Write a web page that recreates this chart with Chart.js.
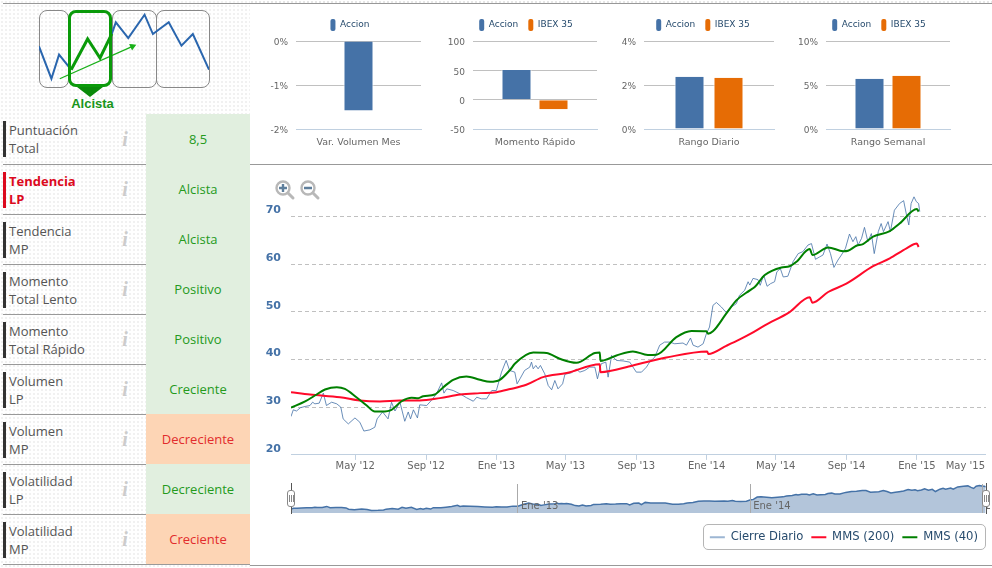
<!DOCTYPE html>
<html>
<head>
<meta charset="utf-8">
<title>Alcista</title>
<script src="https://cdn.jsdelivr.net/npm/chart.js@4/dist/chart.umd.js"></script>
<style>
html, body { margin: 0; padding: 0; background: #fff; }
body { position: relative; width: 992px; height: 568px; overflow: hidden; font-family: "Open Sans", sans-serif; }
.abs { position: absolute; }
.dots { left: 0; top: 0; width: 250px; height: 568px;
	background-image: radial-gradient(#f1f1f1 0.8px, transparent 1px); background-size: 4px 4px; }
.dots-top { left: 250px; top: 0; width: 742px; height: 3px;
	background-image: radial-gradient(#e6e6e6 0.8px, transparent 1px); background-size: 4px 4px; }
.hline { height: 1px; background: #999; }
.bar-mark { left: 3px; width: 3px; height: 36px; background: #333; }
.row-label { left: 9px; width: 100px; font-size: 13px; line-height: 18px; color: #555; }
.row-label.hot { color: #dc0a1e; font-weight: bold; }
.row-info { left: 118px; width: 14px; text-align: center; font: italic bold 20px "Liberation Serif", serif; color: #cccccc; }
.cell { left: 146px; width: 104px; height: 50px; line-height: 50px; text-align: center; font-size: 13px; }
.cell.up { background: #e1efdf; color: #259a1c; }
.cell.down { background: #fdd5b5; color: #e22c2c; }
.frame { top: 10px; height: 76px; border: 1px solid #888; border-radius: 8px; box-sizing: content-box; }
.frame.on { border: 3px solid #0a9a0a; top: 10px; height: 71px; }
.trend-label { left: 40px; width: 105px; top: 96px; text-align: center; font: bold 13px "Liberation Sans", sans-serif; color: #19961a; }
canvas { display: block; }
.legend-box { left: 703px; top: 524px; width: 281px; height: 24px; border: 1px solid #b5b5b5; border-radius: 5px; }
.nav-line { top: 483px; width: 1px; height: 31px; background: #555; }
.nav-handle { top: 490px; width: 6px; height: 15px; background: #fff; border: 1px solid #888; border-radius: 3px; }
.nav-handle i { position: absolute; top: 4px; width: 1px; height: 7px; background: #888; }
</style>
</head>
<body>
<script>
// rows of the left table
var rowTop = [114, 164, 214, 264, 314, 364, 414, 464, 514];
var rowNames = [["Puntuación", "Total"], ["Tendencia", "LP"], ["Tendencia", "MP"], ["Momento", "Total Lento"], ["Momento", "Total Rápido"], ["Volumen", "LP"], ["Volumen", "MP"], ["Volatilidad", "LP"], ["Volatilidad", "MP"]];
var rowValues = ["8,5", "Alcista", "Alcista", "Positivo", "Positivo", "Creciente", "Decreciente", "Decreciente", "Creciente"];
var rowGood = [true, true, true, true, true, true, false, true, false];

// little trend picture
var miniX = [0, 7.3, 11.8, 18.9, 28.6, 35.9, 42.8, 45.2, 52.5, 62.1, 67, 76.3, 83.8, 90.5, 100];
var miniY = [52.8, 10.8, 42, 22.5, 62.3, 37.7, 69, 84, 63.6, 93.9, 68.8, 84, 53.7, 68.8, 22.5];
var arrowX = [12.2, 55];
var arrowY = [10.8, 52.8];

// small bar charts
var seriesAccion = "Accion";
var seriesIbex = "IBEX 35";
var volumenCats = ["Var. Volumen Mes"];
var volumenAccion = [-1.58];
var volumenTicks = [-2, -1, 0];
var momentoCats = ["Momento Rápido"];
var momentoAccion = [50.5];
var momentoIbex = [-16.5];
var momentoTicks = [-50, 0, 50, 100];
var diarioCats = ["Rango Diario"];
var diarioAccion = [2.38];
var diarioIbex = [2.33];
var diarioTicks = [0, 2, 4];
var semanalCats = ["Rango Semanal"];
var semanalAccion = [5.72];
var semanalIbex = [6.06];
var semanalTicks = [0, 5, 10];

// main chart, x is days since 1 Jan 2012
var dailyDays = [9.5, 13.5, 19, 26, 34, 42.5, 47, 51, 58.5, 65.6, 71, 80, 89, 96, 100, 109, 120.5, 129, 136, 146.5, 155, 159, 168.5, 178, 184, 190, 198.6, 207, 213, 217, 222, 229, 233, 245, 253, 262, 271, 275, 280, 291, 303, 314, 326, 332, 340, 349, 358, 366, 375, 383, 389, 398, 402, 407, 415, 424, 427, 430, 434.5, 438.5, 442.5, 450, 456, 462, 467.5, 473, 481, 485, 496, 505, 511, 519.5, 528, 537, 541.5, 548, 556, 560, 566, 574.5, 586, 597.5, 609, 618, 626.5, 632, 641, 649.6, 658, 667, 675.6, 690, 696, 703, 707.5, 716, 725, 730.6, 736, 742, 748, 756.6, 765, 774, 782.6, 788, 797, 803, 806, 811.6, 820, 824, 830, 836, 842, 849, 853, 859, 864, 872, 881, 890, 898, 907, 913, 920, 927, 933, 940, 946, 952, 959, 965, 972, 979, 985, 990, 994, 1000, 1005, 1011, 1017, 1022, 1029, 1034, 1038, 1046, 1050, 1057, 1066, 1073, 1078, 1082, 1086, 1091, 1095, 1099, 1101];
var dailyClose = [28.05, 29.45, 29.2, 29.9, 30.15, 30.35, 31.05, 30.7, 30.85, 32.95, 30.35, 31.05, 30.7, 30, 27.55, 26.5, 27.75, 26.85, 25, 25.25, 25.8, 27.55, 29, 27.55, 31.05, 29.2, 31.05, 27.05, 29, 27.55, 29.45, 27.75, 30.5, 30.35, 31.4, 32.8, 35.1, 32.95, 33.85, 33.5, 32.8, 32, 31.25, 32.1, 31.75, 31.75, 33.5, 33.5, 37.35, 39.8, 37.7, 37.35, 34.9, 35.95, 37.7, 38.4, 39.45, 38.05, 38.75, 38.05, 38.75, 37, 34.55, 33.65, 35.6, 33.85, 34.9, 36.9, 37.2, 37.95, 37.35, 37.7, 38.4, 38.4, 35.95, 39.1, 39.45, 36.3, 40.85, 39.8, 39.7, 39.45, 37.35, 37.35, 38.4, 39.45, 40.5, 43, 43.65, 43.65, 43.3, 43.45, 43, 44.5, 43, 42.6, 43.3, 45.4, 46.8, 51.35, 51.95, 51, 49.85, 51, 51.7, 53.45, 54.5, 56.3, 55.6, 57, 56.75, 55.55, 57.7, 55.35, 55.9, 56.3, 58.4, 59.05, 57.3, 57.45, 60.5, 62.2, 62.6, 64, 64.3, 61, 61.5, 61.9, 64.2, 62.2, 59.3, 60.85, 61.9, 63.3, 66.3, 64.7, 65.75, 64, 65.4, 67.7, 64.7, 66.4, 62.2, 66.8, 68.5, 66.8, 68.9, 66.8, 71.3, 72.7, 73.3, 70.3, 68.2, 72.7, 74.1, 73.1, 72.7, 71];
var mms200Days = [9.5, 42.5, 94.5, 129, 164, 198.6, 233, 268, 303, 337.4, 366, 390, 418, 447, 488, 545.5, 546.7, 603, 661, 732, 734, 765, 788.5, 806, 832, 875, 910, 914.6, 942, 973.6, 1020, 1049, 1078, 1096, 1099];
var mms200 = [33.15, 32.65, 32.1, 31.4, 31.2, 31.4, 31.4, 31.9, 32.65, 32.95, 33.15, 33.8, 34.7, 36.3, 37.15, 39, 37.35, 38.75, 40.4, 41.7, 41.15, 42.85, 44.2, 45.3, 47.15, 49.95, 53.05, 51.9, 54.15, 55.9, 59.55, 61.2, 63.3, 64.3, 63.6];
var mms40Days = [9.5, 34, 51, 68.5, 89, 103, 123, 141, 155, 167, 184, 201.5, 219, 230.5, 239, 259, 274, 291, 314, 337.4, 355, 372, 390, 398, 430, 453, 476, 505, 537, 545.5, 546.7, 574.5, 603, 629, 644, 678.5, 704.6, 730.6, 733.5, 742, 765, 782.6, 806, 814.5, 832, 861, 875, 887, 910, 914.6, 942, 968, 976.5, 991, 1002.5, 1020, 1049, 1066, 1096, 1099];
var mms40 = [29.9, 31.2, 32.45, 33.7, 34.2, 33.85, 32.1, 30.35, 29.1, 29.1, 29.45, 31.25, 32, 31.9, 32.3, 32.65, 34.2, 35.75, 36.45, 35.75, 35.35, 35.75, 37.85, 39.1, 41.45, 41.35, 40.15, 39.3, 41.35, 41.45, 39.7, 40.85, 41.7, 40.95, 41, 44.7, 46, 45.9, 45.4, 45.9, 49.6, 52.4, 54.5, 55.2, 57.7, 59.3, 59.55, 60.5, 63.15, 61.9, 63.5, 62.7, 62.8, 63.85, 64.2, 65.75, 66.9, 68.5, 71.55, 71];
var yTicksMain = [20, 30, 40, 50, 60, 70];
var xTickDays = [121, 244, 366, 486, 609, 731, 851, 974, 1096, 1216];
var xTickLabels = ["May '12", "Sep '12", "Ene '13", "May '13", "Sep '13", "Ene '14", "May '14", "Sep '14", "Ene '15", "May '15"];
var navTickDays = [366, 731, 1096];
var navTickLabels = ["Ene '13", "Ene '14", "Ene '15"];

var BLUE = "#4572a7";
var ORANGE = "#e66c05";
var AXIS = "#c0d0e0";
var GRID = "#c0c0c0";
var FONT = "'DejaVu Sans', sans-serif";

function add(cls, css, html) {
	var el = document.createElement("div");
	el.className = "abs " + cls;
	el.style.cssText = css;
	if (html) el.innerHTML = html;
	document.body.appendChild(el);
	return el;
}

function addCanvas(left, top, width, height) {
	var c = document.createElement("canvas");
	c.width = width;
	c.height = height;
	c.className = "abs";
	c.style.left = left + "px";
	c.style.top = top + "px";
	c.style.zIndex = 2;
	document.body.appendChild(c);
	return c;
}

function fromPairs(xs, ys) {
	return xs.map(function (x, i) { return { x: x, y: ys[i] }; });
}

function px(n) { return "left:" + n + "px;"; }

// left table and rules
add("dots", "");
add("dots-top", "");
add("hline", "left:3px;top:3px;width:989px;");
add("hline", "left:3px;top:164px;width:989px;");
for (var r = 0; r < rowTop.length; r++) {
	var t = rowTop[r];
	var hot = r == 1;
	var shift = r == 0 ? 7 : 8;
	add("bar-mark", "top:" + (t + shift) + "px;" + (hot ? "background:#dc0a1e;" : ""));
	add("row-label" + (hot ? " hot" : ""), "top:" + (t + shift) + "px;", rowNames[r].join("<br>"));
	add("row-info", "top:" + (t + 14) + "px;", "i");
	add("cell " + (rowGood[r] ? "up" : "down"), "top:" + t + "px;", rowValues[r]);
	if (r > 0) add("hline", "left:3px;top:" + (t + 50) + "px;width:247px;");
}
add("hline", "left:250px;top:565px;width:742px;");

// trend picture
add("frame", px(39) + "width:28px;");
add("frame", px(112) + "width:43px;");
add("frame", px(156) + "width:52px;");
add("frame on", px(68) + "width:38px;z-index:3;");
add("trend-label", "", "Alcista");
add("", "left:77px;top:87px;z-index:3;width:0;height:0;border-left:13px solid transparent;border-right:13px solid transparent;border-top:10px solid #0a8a0a;");

new Chart(addCanvas(39, 10, 170, 77), {
	type: "line",
	data: {
		datasets: [
			{
				data: fromPairs(miniX, miniY),
				borderColor: "#2a66ae",
				borderWidth: 2,
				pointRadius: 0,
				segment: {
					borderColor: function (c) { return c.p0DataIndex >= 3 && c.p0DataIndex < 6 ? "#0a9a0a" : undefined; },
					borderWidth: function (c) { return c.p0DataIndex >= 3 && c.p0DataIndex < 6 ? 3 : undefined; }
				}
			},
			{
				data: fromPairs(arrowX, arrowY),
				borderColor: "#19b019",
				backgroundColor: "#19b019",
				borderWidth: 1.2,
				pointStyle: "triangle",
				pointRadius: [0, 3],
				pointRotation: 66
			}
		]
	},
	options: {
		responsive: false,
		animation: false,
		events: [],
		layout: { autoPadding: false },
		plugins: { legend: { display: false }, tooltip: { enabled: false } },
		scales: {
			x: { type: "linear", display: false, min: 0, max: 100 },
			y: { display: false, min: 0, max: 100 }
		}
	}
});

// tick text nudged below its grid line, as in the original
function nudged(text) { return ["", text]; }

function smallBars(box, cats, sets, yTicks, suffix) {
	var datasets = sets.map(function (s) {
		return {
			label: s.label,
			data: s.data,
			backgroundColor: s.color,
			borderColor: "#fff",
			borderWidth: { left: 1, right: 1, top: 0, bottom: 0 },
			categoryPercentage: box.slot * sets.length / box.plot,
			barPercentage: 30 / box.slot
		};
	});
	return new Chart(addCanvas(box.left, 9, box.width, 150), {
		type: "bar",
		data: { labels: cats, datasets: datasets },
		options: {
			responsive: false,
			animation: false,
			events: [],
			layout: { padding: 0 },
			plugins: {
				tooltip: { enabled: false },
				legend: {
					position: "top",
					labels: {
						boxWidth: 5,
						boxHeight: 12,
						padding: 10,
						useBorderRadius: true,
						borderRadius: 2,
						color: "#274b6d",
						font: { family: FONT, size: 9 },
						generateLabels: function (chart) {
							var items = Chart.defaults.plugins.legend.labels.generateLabels(chart);
							items.forEach(function (i) { i.lineWidth = 0; });
							return items;
						}
					}
				}
			},
			scales: {
				x: {
					grid: { display: false },
					border: { color: AXIS },
					ticks: { color: "#666", padding: 0, font: { family: FONT, size: 9.5 }, maxRotation: 0 },
					afterFit: function (s) { s.height = 30; s.paddingLeft = 0; s.paddingRight = 0; }
				},
				y: {
					min: yTicks[0],
					max: yTicks[yTicks.length - 1],
					grid: { color: GRID, drawTicks: false },
					border: { display: false },
					ticks: {
						color: "#666",
						padding: 8,
						font: { family: FONT, size: 9, lineHeight: "4px" },
						callback: function (v) { return nudged(v + suffix); }
					},
					afterBuildTicks: function (s) { s.ticks = yTicks.map(function (v) { return { value: v }; }); },
					afterFit: function (s) { s.width = box.axis; s.paddingTop = 0; s.paddingBottom = 0; }
				},
				pad: {
					axis: "y",
					position: "right",
					grid: { display: false },
					border: { display: false },
					ticks: { display: false },
					afterFit: function (s) { s.width = box.left + box.width - box.right; s.paddingTop = 0; s.paddingBottom = 0; }
				}
			}
		}
	});
}

smallBars({ left: 262, width: 176, axis: 34, right: 421, slot: 30, plot: 125 }, volumenCats,
	[{ label: seriesAccion, data: volumenAccion, color: BLUE }], volumenTicks, "%");
smallBars({ left: 440, width: 172, axis: 33, right: 597, slot: 37, plot: 124 }, momentoCats,
	[{ label: seriesAccion, data: momentoAccion, color: BLUE }, { label: seriesIbex, data: momentoIbex, color: ORANGE }], momentoTicks, "");
smallBars({ left: 616, width: 174, axis: 28, right: 774, slot: 39, plot: 130 }, diarioCats,
	[{ label: seriesAccion, data: diarioAccion, color: BLUE }, { label: seriesIbex, data: diarioIbex, color: ORANGE }], diarioTicks, "%");
smallBars({ left: 793, width: 172, axis: 33, right: 950, slot: 37, plot: 124 }, semanalCats,
	[{ label: seriesAccion, data: semanalAccion, color: BLUE }, { label: seriesIbex, data: semanalIbex, color: ORANGE }], semanalTicks, "%");

// zoom icons
add("", "left:275px;top:180px;z-index:3;",
	'<svg width="50" height="22" viewBox="0 0 50 22">' +
	'<g fill="none" stroke="#b8b8b8" stroke-width="2.4"><circle cx="8" cy="8" r="6.5"/><circle cx="33" cy="8" r="6.5"/></g>' +
	'<g stroke="#b8b8b8" stroke-width="3" stroke-linecap="round"><path d="M13 13l5 5"/><path d="M38 13l5 5"/></g>' +
	'<g stroke="#5f7f9c" stroke-width="2.4"><path d="M4 8h8M8 4v8M29 8h8"/></g></svg>');

// main chart
add("legend-box", "");
new Chart(addCanvas(258, 170, 728, 383), {
	type: "line",
	data: {
		datasets: [
			{ label: "Cierre Diario", data: fromPairs(dailyDays, dailyClose), borderColor: "rgba(69,114,167,0.8)", backgroundColor: "#9db6d3", borderWidth: 1, pointRadius: 0, order: 2 },
			{ label: "MMS (200)", data: fromPairs(mms200Days, mms200), borderColor: "#ff0a2a", backgroundColor: "#ff0a2a", borderWidth: 2, pointRadius: 0, cubicInterpolationMode: "monotone", order: 1 },
			{ label: "MMS (40)", data: fromPairs(mms40Days, mms40), borderColor: "#008000", backgroundColor: "#008000", borderWidth: 2, pointRadius: 0, cubicInterpolationMode: "monotone", order: 0 }
		]
	},
	options: {
		responsive: false,
		animation: false,
		events: [],
		layout: { padding: { top: 13 }, autoPadding: false },
		plugins: {
			tooltip: { enabled: false },
			legend: {
				position: "bottom",
				align: "end",
				labels: {
					boxWidth: 15,
					boxHeight: 2,
					padding: 8,
					color: "#274b6d",
					font: { family: FONT, size: 11.6 },
					sort: function (a, b) { return a.datasetIndex - b.datasetIndex; },
					generateLabels: function (chart) {
						var items = Chart.defaults.plugins.legend.labels.generateLabels(chart);
						items.forEach(function (i) { i.lineWidth = 0; });
						return items;
					}
				}
			}
		},
		scales: {
			x: {
				type: "linear",
				min: dailyDays[0],
				max: 1216,
				grid: {
					drawOnChartArea: false,
					tickLength: 5,
					tickColor: function (c) { return c.index == xTickDays.length - 1 ? "transparent" : AXIS; }
				},
				border: { color: AXIS },
				ticks: {
					color: "#666",
					padding: 1,
					autoSkip: false,
					maxRotation: 0,
					font: { family: FONT, size: 10 },
					callback: function (v) {
						var label = xTickLabels[xTickDays.indexOf(v)];
						// the last label is pulled inside the plot
						return v == 1216 ? label + "             " : label;
					}
				},
				afterBuildTicks: function (s) { s.ticks = xTickDays.map(function (v) { return { value: v }; }); },
				afterFit: function (s) { s.height = 68.5; s.paddingLeft = 0; s.paddingRight = 0; }
			},
			y: {
				min: 20,
				max: 77,
				grid: { color: GRID, drawTicks: false },
				border: { display: false, dash: [4, 3] },
				ticks: {
					color: BLUE,
					padding: 10,
					font: { family: FONT, size: 11, weight: "bold", lineHeight: "12px" },
					callback: function (v) { return [String(v), ""]; }
				},
				afterBuildTicks: function (s) { s.ticks = yTicksMain.map(function (v) { return { value: v }; }); },
				afterFit: function (s) { s.width = 33; s.paddingTop = 0; s.paddingBottom = 0; }
			}
		}
	}
});

// navigator, its labels sit inside the plot so they are written after the draw
var navLabels = {
	id: "navLabels",
	afterDraw: function (chart) {
		var ctx = chart.ctx;
		var sx = chart.scales.x;
		ctx.save();
		ctx.font = "10px " + FONT;
		ctx.fillStyle = "#666";
		ctx.textBaseline = "middle";
		navTickDays.forEach(function (d, i) {
			ctx.fillText(navTickLabels[i], sx.getPixelForValue(d) + 3, chart.chartArea.bottom - 7);
		});
		ctx.restore();
	}
};
new Chart(addCanvas(281, 484, 709, 30), {
	type: "line",
	data: {
		datasets: [
			{ data: fromPairs(dailyDays, dailyClose), borderColor: BLUE, backgroundColor: "#b3c5da", borderWidth: 1.5, pointRadius: 0, fill: "start" }
		]
	},
	plugins: [navLabels],
	options: {
		responsive: false,
		animation: false,
		events: [],
		layout: { padding: { left: 10, right: 4.3 }, autoPadding: false },
		plugins: { legend: { display: false }, tooltip: { enabled: false } },
		scales: {
			x: {
				type: "linear",
				min: dailyDays[0],
				max: dailyDays[dailyDays.length - 1],
				grid: { color: "#aaa", z: 1, drawTicks: false },
				border: { display: false },
				ticks: { display: false },
				afterBuildTicks: function (s) { s.ticks = navTickDays.map(function (v) { return { value: v }; }); },
				afterFit: function (s) { s.height = 1; s.paddingLeft = 0; s.paddingRight = 0; }
			},
			y: { display: false, min: 20, max: 77 }
		}
	}
});
var grips = "<i style='left:1px'></i><i style='left:3px'></i><i style='left:5px'></i>";
add("nav-line", "left:291px;z-index:3;");
add("nav-line", "left:986px;z-index:3;");
add("nav-handle", "left:287px;z-index:4;", grips);
add("nav-handle", "left:982px;z-index:4;", grips);
</script>
</body>
</html>
